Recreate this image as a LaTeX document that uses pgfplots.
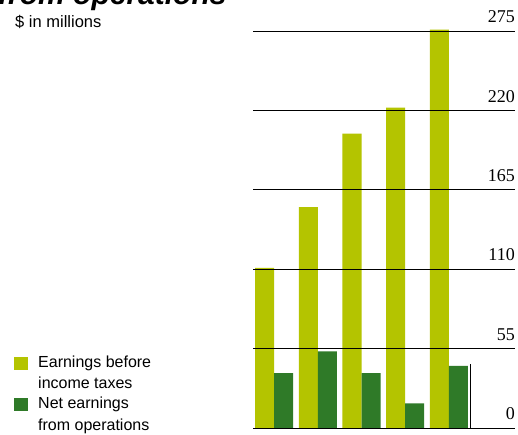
\documentclass[border=0pt]{standalone}
\usepackage{pgfplots}
\pgfplotsset{compat=1.18}
\usepackage{fontspec}
\setmainfont{Liberation Sans}
\newfontfamily\seriffont{Liberation Serif}
\definecolor{lightg}{RGB}{180,196,0}
\definecolor{darkg}{RGB}{47,122,40}
\begin{document}
\begin{tikzpicture}[x=1pt,y=1pt]
\clip (0,0) rectangle (518,434);
\fill[white] (0,0) rectangle (518,434);
\node[anchor=base west, inner sep=0, font=\bfseries\itshape\fontsize{30}{34}\selectfont] at (-2,429) {from operations};
\node[anchor=base west, inner sep=0, font=\fontsize{16.5}{19}\selectfont] at (15,406) {\$ in millions};
% legend
\fill[lightg] (14,64) rectangle (28,77);
\fill[darkg] (14,23) rectangle (28,36);
\node[anchor=base west, inner sep=0, font=\fontsize{16}{19}\selectfont] at (38,67) {Earnings before};
\node[anchor=base west, inner sep=0, font=\fontsize{16}{19}\selectfont] at (38,46) {income taxes};
\node[anchor=base west, inner sep=0, font=\fontsize{16}{19}\selectfont] at (38,26) {Net earnings};
\node[anchor=base west, inner sep=0, font=\fontsize{16}{19}\selectfont] at (38,4) {from operations};
\begin{axis}[
  at={(253pt,6pt)}, anchor=south west,
  scale only axis, width=262pt, height=404.2pt,
  xmin=-0.48, xmax=5.509, ymin=0, ymax=280,
  ybar=0pt, bar width=19pt,
  hide x axis,
  axis y line*=right,
  y axis line style={draw=none},
  ytick={0,55,110,165,220,275},
  ytick style={draw=none},
  ymajorgrids, grid style={black, line width=0.8pt},
  axis on top,
  /pgf/number format/assume math mode=true,
  yticklabel style={anchor=south east, yshift=8pt, xshift=0pt, inner sep=0pt, font=\seriffont\fontsize{18}{20}\selectfont},
  clip=false,
]
\addplot[fill=lightg, draw=none] coordinates {(0,111) (1,153) (2,204) (3,222) (4,276)};
\addplot[fill=darkg, draw=none] coordinates {(0,38) (1,53) (2,38) (3,17) (4,43)};
\draw[black, line width=0.6pt] (axis cs:4.48,0) -- (axis cs:4.48,44);
\end{axis}
\end{tikzpicture}
\end{document}
